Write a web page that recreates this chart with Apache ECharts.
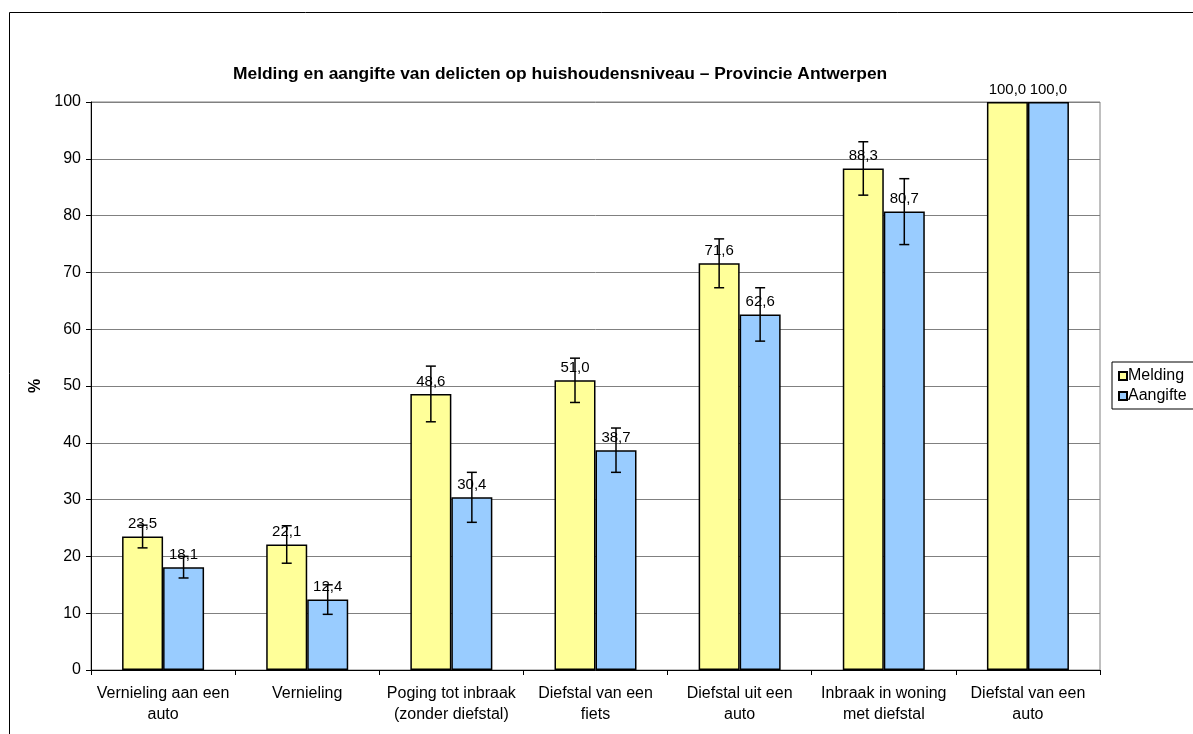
<!DOCTYPE html>
<html>
<head>
<meta charset="utf-8">
<script src="https://cdn.jsdelivr.net/npm/echarts@6/dist/echarts.min.js"></script>
<style>
html,body{margin:0;padding:0;background:#fff;}
#chart{width:1193px;height:734px;}
</style>
</head>
<body>
<div id="chart"></div>
<script>
var categories = [
  "Vernieling aan een\nauto",
  "Vernieling",
  "Poging tot inbraak\n(zonder diefstal)",
  "Diefstal van een\nfiets",
  "Diefstal uit een\nauto",
  "Inbraak in woning\nmet diefstal",
  "Diefstal van een\nauto"
];
var melding = [23.5, 22.1, 48.6, 51.0, 71.6, 88.3, 100.0];
var aangifte = [18.1, 12.4, 30.4, 38.7, 62.6, 80.7, 100.0];
var meldingErr = [2.0, 3.3, 4.9, 3.9, 4.3, 4.7, 0];
var aangifteErr = [1.9, 2.6, 4.4, 3.9, 4.7, 5.8, 0];
var yTicks = [0, 10, 20, 30, 40, 50, 60, 70, 80, 90, 100];

var FONT = "Liberation Sans, Arial, sans-serif";
var BAR_W = 41;
var FS = 16;

function fmt(v) { return v.toFixed(1).replace('.', ','); }

function errData(vals, errs) {
  return vals.map(function (v, i) { return [i, v, errs[i]]; });
}

function errRender(offset) {
  return function (params, api) {
    var e = api.value(2);
    if (!e) return null;
    var i = api.value(0), v = api.value(1);
    var top = api.coord([i, v + e]);
    var bot = api.coord([i, v - e]);
    var x = top[0] + offset;
    var cap = 5;
    var st = { stroke: '#000', lineWidth: 1.5 };
    return {
      type: 'group',
      children: [
        { type: 'line', shape: { x1: x, y1: top[1], x2: x, y2: bot[1] }, style: st },
        { type: 'line', shape: { x1: x - cap, y1: top[1], x2: x + cap, y2: top[1] }, style: st },
        { type: 'line', shape: { x1: x - cap, y1: bot[1], x2: x + cap, y2: bot[1] }, style: st }
      ]
    };
  };
}

var chart = echarts.init(document.getElementById('chart'), null, { renderer: 'canvas' });
var barLabel = {
  show: true, position: 'top', distance: 5, color: '#000',
  fontFamily: FONT, fontSize: 15,
  formatter: function (p) { return fmt(p.value); }
};
chart.setOption({
  backgroundColor: '#fff',
  animation: false,
  textStyle: { fontFamily: FONT },
  graphic: [{
    type: 'rect', silent: true, z: -1,
    shape: { x: 9.5, y: 12.5, width: 1400, height: 900 },
    style: { fill: 'none', stroke: '#000', lineWidth: 1 }
  }],
  title: {
    text: 'Melding en aangifte van delicten op huishoudensniveau \u2013 Provincie Antwerpen',
    left: 228, top: 61,
    textStyle: { fontFamily: FONT, fontSize: 17.4, fontWeight: 'bold', color: '#000' }
  },
  legend: {
    data: ['Melding', 'Aangifte'],
    orient: 'vertical',
    left: 1112, top: 362,
    padding: [6, 20, 5, 6],
    itemWidth: 8, itemHeight: 8, itemGap: 4,
    borderColor: '#000', borderWidth: 1,
    icon: 'rect',
    textStyle: { fontFamily: FONT, fontSize: FS, color: '#000', padding: [0, 0, 0, -4] }
  },
  grid: { left: 91, top: 102, right: 93, bottom: 64, show: true, borderColor: '#808080', borderWidth: 1, backgroundColor: 'transparent' },
  xAxis: {
    type: 'category',
    data: categories,
    axisLine: { lineStyle: { color: '#000', width: 1 } },
    axisTick: { show: true, length: 5, lineStyle: { color: '#000' } },
    axisLabel: { color: '#000', fontFamily: FONT, fontSize: FS, lineHeight: 21, margin: 13, interval: 0 },
    splitLine: { show: false }
  },
  yAxis: {
    type: 'value',
    min: yTicks[0], max: yTicks[yTicks.length - 1], interval: 10,
    name: '%', nameLocation: 'middle', nameRotate: 90, nameGap: 41,
    nameTextStyle: { fontFamily: FONT, fontSize: FS, fontWeight: 'bold', color: '#000' },
    axisLine: { show: true, lineStyle: { color: '#000', width: 1 } },
    axisTick: { show: true, length: 5, lineStyle: { color: '#000' } },
    axisLabel: { color: '#000', fontFamily: FONT, fontSize: FS, margin: 10 },
    splitLine: { show: true, lineStyle: { color: '#808080', width: 1 } }
  },
  series: [
    {
      name: 'Melding', type: 'bar', data: melding, barWidth: BAR_W, barGap: '0%',
      itemStyle: { color: '#FFFF99', borderColor: '#000', borderWidth: 1.5 },
      label: barLabel
    },
    {
      name: 'Aangifte', type: 'bar', data: aangifte, barWidth: BAR_W, barGap: '0%',
      itemStyle: { color: '#99CCFF', borderColor: '#000', borderWidth: 1.5 },
      label: barLabel
    },
    {
      name: 'MeldingErr', type: 'custom', data: errData(melding, meldingErr),
      renderItem: errRender(-BAR_W / 2), z: 5, silent: true
    },
    {
      name: 'AangifteErr', type: 'custom', data: errData(aangifte, aangifteErr),
      renderItem: errRender(BAR_W / 2), z: 5, silent: true
    }
  ]
});
</script>
</body>
</html>
